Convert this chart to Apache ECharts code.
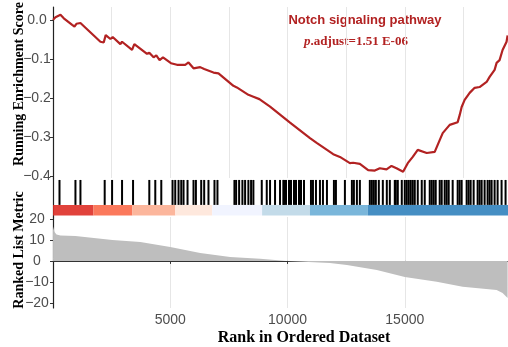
<!DOCTYPE html>
<html>
<head>
<meta charset="utf-8">
<script src="https://cdn.jsdelivr.net/npm/echarts@6/dist/echarts.min.js"></script>
<style>
  html, body { margin: 0; padding: 0; background: #fff; }
  #chart { width: 508px; height: 347px; }
</style>
</head>
<body>
<div id="chart"></div>
<script>
// running enrichment score
const esRank = [1, 106, 179, 319, 460, 817, 915, 1000, 1072, 1170, 2021, 2162, 2247, 2447, 2545, 2872, 2944,
  3370, 3468, 4008, 4106, 4289, 4404, 4544, 4689, 5029, 5285, 5638, 5778, 5991, 6276, 6446, 6531, 6842,
  7055, 7693, 7838, 8331, 8544, 8799, 9255, 10106, 10957, 11242, 11948, 12233, 12659, 12799, 13084, 13437,
  13722, 13935, 14220, 14433, 14646, 14927, 15126, 15339, 15552, 15935, 16276, 16488, 16616, 16914, 17254,
  17339, 17424, 17552, 17765, 17978, 18190, 18488, 18616, 18829, 18914, 19041, 19169, 19339, 19382];
const esScore = [0.0, 0.007, 0.002, 0.013, 0.004, -0.013, -0.017, -0.010, -0.015, -0.008, -0.056, -0.058, -0.039,
  -0.049, -0.044, -0.062, -0.056, -0.077, -0.062, -0.087, -0.084, -0.096, -0.091, -0.103, -0.096, -0.111,
  -0.115, -0.115, -0.109, -0.124, -0.121, -0.126, -0.122, -0.135, -0.137, -0.169, -0.173, -0.192, -0.197,
  -0.203, -0.222, -0.263, -0.303, -0.315, -0.344, -0.351, -0.367, -0.366, -0.369, -0.385, -0.386, -0.380,
  -0.383, -0.374, -0.380, -0.389, -0.367, -0.351, -0.333, -0.341, -0.338, -0.308, -0.290, -0.269, -0.262,
  -0.244, -0.223, -0.205, -0.187, -0.174, -0.172, -0.159, -0.146, -0.128, -0.110, -0.103, -0.077, -0.056, -0.040];

// positions of the gene set members in the ranked list
const hitRanks = [277, 957, 1170, 2204, 2519, 2944, 3413, 4106, 4361, 4617,
  5097, 5212, 5353, 5468, 5566, 5736, 5991, 6093, 6319, 6446, 6629, 6885, 7012,
  7736, 7808, 7936, 8076, 8191, 8331, 8446, 8544, 8901, 9114, 9254, 9467, 9680, 9821,
  9850, 9935, 10063, 10148, 10276, 10361, 10489, 10574, 10701, 10999, 11084, 11212, 11382,
  11510, 11680, 11978, 12063, 12446, 12744, 12829, 12957, 13084, 13509, 13595, 13680, 13765,
  13892, 14063, 14233, 14361, 14573, 14616, 14701, 14871, 14999, 15083, 15168, 15253, 15339,
  15424, 15552, 15722, 15850, 16063, 16148, 16233, 16318, 16488, 16573, 16701, 16786, 16871,
  17041, 17254, 17339, 17424, 17637, 17722, 17807, 17935, 18105, 18190, 18276, 18403, 18531,
  18616, 18701, 18829, 18957, 19126, 19296];

// ranked list metric
const metricRank = [1, 64, 149, 319, 957, 2532, 3723, 5000, 6276, 7553, 8829, 9978, 11806, 12531, 13807,
  15000, 16361, 17467, 18914, 19169, 19382];
const metricValue = [16.5, 13.8, 12.6, 12.2, 11.9, 10.0, 9.0, 6.7, 3.8, 1.9, 1.0, 0.0, -1.0, -2.0, -4.3,
  -7.7, -10.0, -12.4, -13.9, -15.3, -17.7];

// colour bar blocks
const barStart = [0, 1723, 3383, 5213, 6787, 8915, 10957, 13425];
const barEnd = [1723, 3383, 5213, 6787, 8915, 10957, 13425, 19400];
const barColors = ['#DE2D26', '#FB6A4A', '#FCAE91', '#FEE5D9', '#EFF3FF', '#BDD7E7', '#6BAED6', '#3182BD'];

const xTicks = [5000, 10000, 15000];
const esTicks = [0, -0.1, -0.2, -0.3, -0.4];
const metricTicks = [20, 10, 0, -10, -20];

const N = 19400;
const sans = "'Liberation Sans', Arial, sans-serif";
const serif = "'Liberation Serif', 'Times New Roman', serif";
const red = '#b22222';

const minus = (s) => s.replace('-', '\u2212');

const chart = echarts.init(document.getElementById('chart'));

const baseX = (gridIndex) => ({
  type: 'value', gridIndex, min: 0, max: N, interval: 2500,
  axisLine: { show: false }, axisTick: { show: false }, axisLabel: { show: false },
  splitLine: { show: gridIndex !== 1, lineStyle: { color: '#e6e6e6', width: 1 } },
});

chart.setOption({
  animation: false,
  backgroundColor: '#fff',
  grid: [
    { left: 53, right: 0, top: 7, height: 171, outerBoundsMode: 'none' },
    { left: 53, right: 0, top: 178, height: 39, outerBoundsMode: 'none' },
    { left: 53, right: 0, top: 217, height: 91, outerBoundsMode: 'none' },
  ],
  xAxis: [
    baseX(0),
    baseX(1),
    Object.assign(baseX(2), {
      axisLine: { show: true, lineStyle: { color: '#333', width: 1.2 } },
      axisTick: { show: true, length: 3, customValues: xTicks, lineStyle: { color: '#333' } },
      axisLabel: { show: true, customValues: xTicks, color: '#4d4d4d', fontSize: 14, fontFamily: sans, margin: 5,
        formatter: (v) => String(v) },
    }),
  ],
  yAxis: [
    {
      type: 'value', gridIndex: 0, min: -0.405, max: 0.033,
      splitLine: { show: false },
      axisLine: { show: true, lineStyle: { color: '#222', width: 1.2 } },
      axisTick: { show: true, length: 3, customValues: esTicks, lineStyle: { color: '#333' } },
      axisLabel: {
        customValues: esTicks, color: '#4d4d4d', fontSize: 14, fontFamily: sans,
        align: 'center', margin: 16,
        formatter: (v) => minus(v.toFixed(1)),
      },
    },
    {
      type: 'value', gridIndex: 1, min: 0, max: 1,
      splitLine: { show: false },
      axisLine: { show: true, lineStyle: { color: '#222', width: 1.2 } },
      axisTick: { show: false }, axisLabel: { show: false },
    },
    {
      type: 'value', gridIndex: 2, min: -22.5, max: 21,
      splitLine: { show: false },
      axisLine: { show: true, lineStyle: { color: '#222', width: 1.2 } },
      axisTick: { show: true, length: 3, customValues: metricTicks, lineStyle: { color: '#333' } },
      axisLabel: {
        customValues: metricTicks, color: '#4d4d4d', fontSize: 14, fontFamily: sans,
        align: 'center', margin: 16,
        formatter: (v) => minus(String(v)),
      },
    },
  ],
  series: [
    {
      type: 'line', xAxisIndex: 0, yAxisIndex: 0, showSymbol: false,
      data: esRank.map((r, i) => [r, esScore[i]]),
      lineStyle: { color: red, width: 2.2 }, itemStyle: { color: red },
    },
    {
      type: 'custom', xAxisIndex: 1, yAxisIndex: 1,
      data: hitRanks.map((r) => [r]),
      renderItem: (params, api) => {
        const a = api.coord([api.value(0), 0.95]);
        const b = api.coord([api.value(0), 0.31]);
        return { type: 'line', shape: { x1: a[0], y1: a[1], x2: b[0], y2: b[1] },
          style: { stroke: '#000', lineWidth: 2 } };
      },
    },
    {
      type: 'custom', xAxisIndex: 1, yAxisIndex: 1,
      data: barStart.map((s, i) => [s, barEnd[i], i]),
      renderItem: (params, api) => {
        const a = api.coord([api.value(0), 0.31]);
        const b = api.coord([api.value(1), 0.04]);
        return { type: 'rect', shape: { x: a[0], y: a[1], width: b[0] - a[0], height: b[1] - a[1] },
          style: { fill: barColors[api.value(2)], opacity: 0.9 } };
      },
    },
    {
      type: 'line', xAxisIndex: 2, yAxisIndex: 2, showSymbol: false,
      data: metricRank.map((r, i) => [r, metricValue[i]]),
      lineStyle: { width: 0 }, itemStyle: { color: '#bebebe' },
      areaStyle: { color: '#bebebe', opacity: 1 },
    },
  ],
  graphic: [
    { type: 'text', x: 19, y: 84, rotation: Math.PI / 2,
      style: { text: 'Running Enrichment Score', font: 'bold 14px ' + serif, fill: '#000',
        textAlign: 'center', textVerticalAlign: 'middle' } },
    { type: 'text', x: 19, y: 250, rotation: Math.PI / 2,
      style: { text: 'Ranked List Metric', font: 'bold 14px ' + serif, fill: '#000',
        textAlign: 'center', textVerticalAlign: 'middle' } },
    { type: 'text', x: 304, y: 338,
      style: { text: 'Rank in Ordered Dataset', font: 'bold 16px ' + serif, fill: '#000',
        textAlign: 'center', textVerticalAlign: 'middle' } },
    { type: 'text', x: 365, y: 20,
      style: { text: 'Notch signaling pathway', font: 'bold 13px ' + sans, fill: red,
        textAlign: 'center', textVerticalAlign: 'middle' } },
    { type: 'text', x: 356, y: 42,
      style: {
        text: '{i|p}{n|.adjust=1.51 E-06}', textAlign: 'center', textVerticalAlign: 'middle',
        rich: {
          i: { fontFamily: serif, fontStyle: 'italic', fontWeight: 'bold', fontSize: 13, fill: red },
          n: { fontFamily: serif, fontWeight: 'bold', fontSize: 13, fill: red },
        },
      } },
  ],
});
</script>
</body>
</html>
